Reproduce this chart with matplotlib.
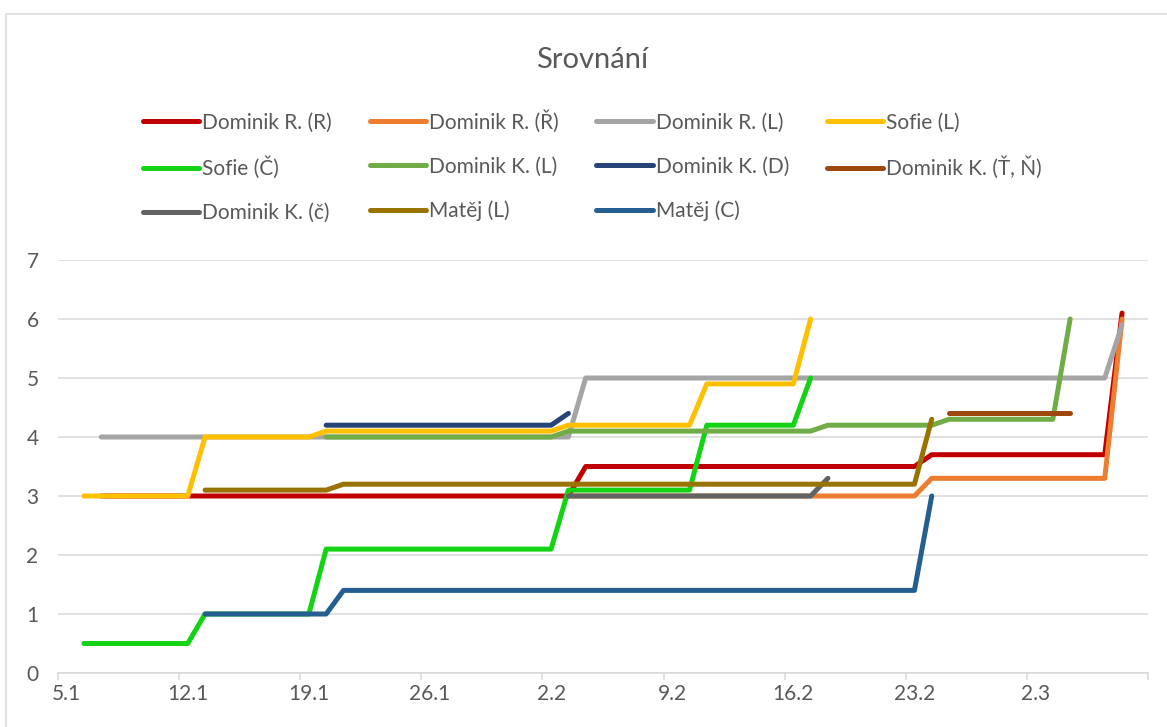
import matplotlib
matplotlib.use("Agg")
import matplotlib.pyplot as plt
import pandas as pd
from matplotlib.patches import Rectangle

plt.rcParams['font.family'] = ['Lato', 'DejaVu Sans']

# first day on the axis, year is a guess (Feb has 28 days)
year = 2023
axis_start = "5.1"
axis_days = 63

tick_labels = ["5.1", "12.1", "19.1", "26.1", "2.2", "9.2", "16.2", "23.2", "2.3"]

series_names = ["Dominik R. (R)", "Dominik R. (Ř)", "Dominik R. (L)", "Sofie (L)",
                "Sofie (Č)", "Dominik K. (L)", "Dominik K. (D)", "Dominik K. (Ť, Ň)",
                "Dominik K. (č)", "Matěj (L)", "Matěj (C)"]
series_colors = ["#C00000", "#ED7D31", "#A5A5A5", "#FFC000",
                 "#14D314", "#70AD47", "#264478", "#9E480E",
                 "#636363", "#997300", "#255E91"]

dom_r_r_dates = ["7.1", "3.2", "4.2", "23.2", "24.2", "6.3", "7.3"]
dom_r_r_vals = [3.0, 3.0, 3.5, 3.5, 3.7, 3.7, 6.1]

dom_r_rr_dates = ["3.2", "23.2", "24.2", "6.3", "7.3"]
dom_r_rr_vals = [3.0, 3.0, 3.3, 3.3, 6.0]

dom_r_l_dates = ["7.1", "3.2", "4.2", "6.3", "7.3"]
dom_r_l_vals = [4.0, 4.0, 5.0, 5.0, 5.9]

sofie_l_dates = ["6.1", "12.1", "13.1", "19.1", "20.1", "2.2", "3.2", "10.2", "11.2", "16.2", "17.2"]
sofie_l_vals = [3.0, 3.0, 4.0, 4.0, 4.1, 4.1, 4.2, 4.2, 4.9, 4.9, 6.0]

sofie_c_dates = ["6.1", "12.1", "13.1", "19.1", "20.1", "2.2", "3.2", "10.2", "11.2", "16.2", "17.2"]
sofie_c_vals = [0.5, 0.5, 1.0, 1.0, 2.1, 2.1, 3.1, 3.1, 4.2, 4.2, 5.0]

dom_k_l_dates = ["20.1", "2.2", "3.2", "17.2", "18.2", "24.2", "25.2", "3.3", "4.3"]
dom_k_l_vals = [4.0, 4.0, 4.1, 4.1, 4.2, 4.2, 4.3, 4.3, 6.0]

dom_k_d_dates = ["20.1", "2.2", "3.2"]
dom_k_d_vals = [4.2, 4.2, 4.4]

dom_k_tn_dates = ["25.2", "4.3"]
dom_k_tn_vals = [4.4, 4.4]

dom_k_c_dates = ["3.2", "17.2", "18.2"]
dom_k_c_vals = [3.0, 3.0, 3.3]

matej_l_dates = ["13.1", "20.1", "21.1", "23.2", "24.2"]
matej_l_vals = [3.1, 3.1, 3.2, 3.2, 4.3]

matej_c_dates = ["13.1", "20.1", "21.1", "23.2", "24.2"]
matej_c_vals = [1.0, 1.0, 1.4, 1.4, 3.0]

all_dates = [dom_r_r_dates, dom_r_rr_dates, dom_r_l_dates, sofie_l_dates, sofie_c_dates,
             dom_k_l_dates, dom_k_d_dates, dom_k_tn_dates, dom_k_c_dates,
             matej_l_dates, matej_c_dates]
all_vals = [dom_r_r_vals, dom_r_rr_vals, dom_r_l_vals, sofie_l_vals, sofie_c_vals,
            dom_k_l_vals, dom_k_d_vals, dom_k_tn_vals, dom_k_c_vals,
            matej_l_vals, matej_c_vals]


def to_day(s):
    d, m = s.split(".")
    d0, m0 = axis_start.split(".")
    return (pd.Timestamp(year, int(m), int(d)) - pd.Timestamp(year, int(m0), int(d0))).days


W, H = 1167, 727
fig = plt.figure(figsize=(W / 100, H / 100), dpi=100)
ax = fig.add_axes([58 / W, 54 / H, 1090 / W, 413 / H])

lines = []
for dates, vals, name, col in zip(all_dates, all_vals, series_names, series_colors):
    ln, = ax.plot([to_day(d) for d in dates], vals, color=col, lw=3.6, label=name,
                  solid_capstyle='round', solid_joinstyle='round')
    lines.append(ln)

grid_col = "#D9D9D9"
text_col = "#595959"

ax.set_ylim(0, 7)
ax.set_yticks(range(0, 8))
ax.set_xlim(-0.5, axis_days - 0.5)
tick_pos = [to_day(t) for t in tick_labels]
ax.set_xticks([p - 0.5 for p in tick_pos] + [axis_days - 0.5])
ax.set_xticklabels([])
ax.set_xticks(tick_pos, minor=True)
ax.set_xticklabels(tick_labels, minor=True)
ax.tick_params(axis='x', which='major', direction='out', length=5, width=1.1, color=grid_col)
ax.tick_params(axis='x', which='minor', length=0, pad=8, labelsize=15, labelcolor=text_col)
ax.tick_params(axis='y', length=0, pad=14, labelsize=15, labelcolor=text_col)
ax.grid(axis='y', color=grid_col, lw=1.1)
ax.set_axisbelow(True)
for s in ['top', 'right', 'left']:
    ax.spines[s].set_visible(False)
ax.spines['bottom'].set_color(grid_col)
ax.spines['bottom'].set_linewidth(1.1)

fig.text(592 / W, 1 - 60 / H, "Srovnání", ha='center', va='center', fontsize=21, color=text_col)

# Excel fills the legend row by row, matplotlib column by column
order = [0, 4, 8, 1, 5, 9, 2, 6, 10, 3, 7]
leg = fig.legend([lines[i] for i in order], [series_names[i] for i in order],
                 ncol=4, loc='upper left', bbox_to_anchor=(143 / W, 1 - 110 / H),
                 frameon=False, fontsize=15, handlelength=2.7, handletextpad=0.15,
                 columnspacing=1.8, labelspacing=1.15, borderpad=0, borderaxespad=0)
for t in leg.get_texts():
    t.set_color(text_col)

fig.patches.append(Rectangle((6 / W, -0.1), 1.2, (H - 14) / H + 0.1, transform=fig.transFigure,
                             fill=False, edgecolor=grid_col, lw=1.1))

fig.savefig("out.png", dpi=100)
